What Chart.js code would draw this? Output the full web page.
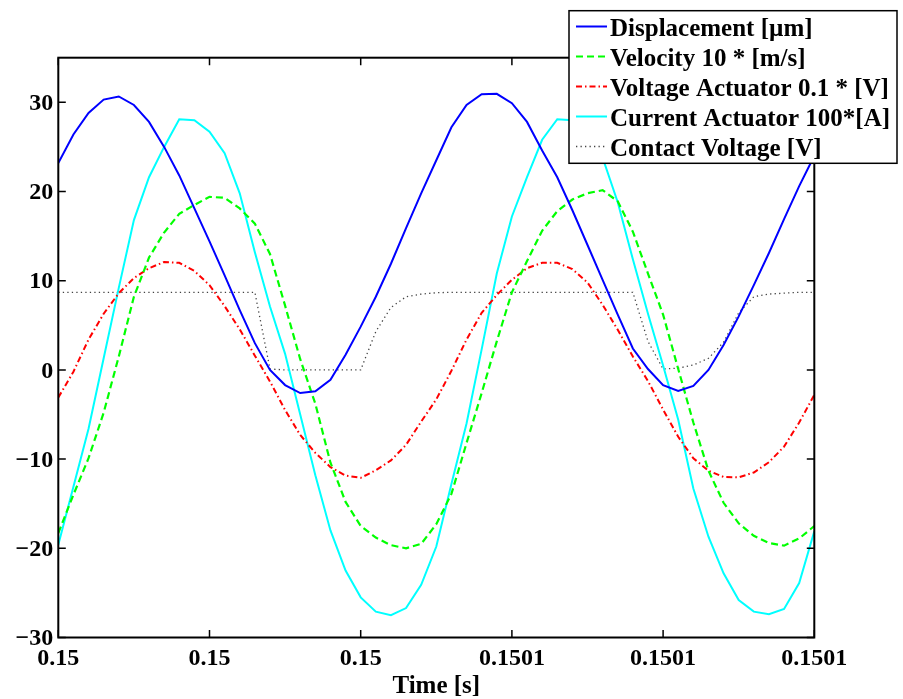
<!DOCTYPE html>
<html>
<head>
<meta charset="utf-8">
<script src="https://cdn.jsdelivr.net/npm/chart.js@4.4.1/dist/chart.umd.min.js"></script>
<style>
  html, body { margin: 0; padding: 0; background: #fff; }
  canvas { display: block; }
</style>
</head>
<body>
<canvas id="c" width="903" height="699" style="width:903px;height:699px"></canvas>
<script>
// ---- data ----
const time = [0.150000,0.150002,0.150004,0.150006,0.150008,0.150010,0.150012,0.150014,0.150016,0.150018,
              0.150020,0.150022,0.150024,0.150026,0.150028,0.150030,0.150032,0.150034,0.150036,0.150038,
              0.150040,0.150042,0.150044,0.150046,0.150048,0.150050,0.150052,0.150054,0.150056,0.150058,
              0.150060,0.150062,0.150064,0.150066,0.150068,0.150070,0.150072,0.150074,0.150076,0.150078,
              0.150080,0.150082,0.150084,0.150086,0.150088,0.150090,0.150092,0.150094,0.150096,0.150098,
              0.150100];

const displacement = [23.2,26.4,28.8,30.3,30.65,29.7,27.8,25.0,21.8,18.1,
                      14.4,10.6,6.7,3.0,0.0,-1.7,-2.6,-2.4,-1.1,1.7,
                      4.85,8.2,11.9,15.9,19.8,23.5,27.2,29.7,30.9,30.95,
                      29.9,27.8,24.6,21.6,17.9,14.0,10.1,6.2,2.4,0.1,
                      -1.7,-2.35,-1.8,0.0,2.8,6.0,9.5,13.1,16.9,20.6,
                      24.0];

const velocity = [-18.3,-14.0,-9.9,-4.8,1.5,8.2,12.6,15.4,17.5,18.5,
                  19.4,19.3,18.1,16.4,13.0,7.2,1.2,-3.8,-10.4,-14.8,
                  -17.5,-18.8,-19.65,-20.0,-19.5,-17.3,-13.9,-8.2,-2.6,3.2,
                  8.7,12.2,15.6,17.8,19.1,19.8,20.15,18.9,15.5,10.8,
                  6.2,0.1,-5.9,-11.3,-14.9,-17.2,-18.6,-19.4,-19.7,-18.9,
                  -17.5];

const voltageActuator = [-3.1,-0.2,3.4,6.3,8.6,10.3,11.4,12.1,12.0,11.1,
                         9.5,7.15,4.55,1.6,-1.3,-4.5,-7.3,-9.3,-10.9,-11.85,
                         -12.1,-11.25,-10.15,-8.4,-5.8,-3.3,-0.1,3.4,6.4,8.4,
                         10.1,11.4,12.0,12.0,11.3,9.8,7.3,4.5,1.5,-1.25,
                         -4.45,-7.5,-9.9,-11.3,-12.0,-12.05,-11.5,-10.35,-8.6,-5.9,
                         -2.8];

const currentActuator = [-19.6,-13.1,-6.6,1.3,9.2,16.8,21.6,25.0,28.1,28.0,
                         26.7,24.3,19.8,13.2,7.1,1.8,-5.0,-11.8,-18.0,-22.5,
                         -25.5,-27.1,-27.5,-26.7,-24.1,-19.8,-12.8,-6.0,2.3,10.8,
                         17.2,21.6,25.8,28.1,28.0,26.6,23.8,18.8,12.4,6.3,
                         0.5,-5.6,-13.3,-18.7,-22.8,-25.8,-27.1,-27.4,-26.8,-23.9,
                         -18.1];

const contactVoltage = [8.7,8.7,8.7,8.7,8.7,8.7,8.7,8.7,8.7,8.7,
                        8.7,8.7,8.7,8.7,0.1,0.0,0.0,0.0,0.0,0.0,
                        0.0,4.3,7.0,8.2,8.5,8.65,8.7,8.7,8.7,8.7,
                        8.7,8.7,8.7,8.7,8.7,8.7,8.7,8.7,8.7,3.2,
                        0.1,0.2,0.55,1.3,3.1,6.4,8.2,8.5,8.6,8.7,
                        8.7];

const seriesLabels = ['Displacement [\u00B5m]','Velocity 10 * [m/s]','Voltage Actuator 0.1 * [V]','Current Actuator 100*[A]','Contact Voltage [V]'];

const xTickValues = [0.15, 0.15002, 0.15004, 0.15006, 0.15008, 0.1501];
const xTickLabels = ['0.15','0.15','0.15','0.1501','0.1501','0.1501'];
const yTickValues = [-30,-20,-10,0,10,20,30];
const yTickLabels = ['\u221230','\u221220','\u221210','0','10','20','30'];
const xAxisTitle = 'Time [s]';

// ---- chart ----
const FONT = "'Liberation Serif', 'Times New Roman', serif";
const pts = arr => arr.map((v, i) => ({ x: time[i], y: v }));

const frameAndLegend = {
  id: 'frameAndLegend',
  afterDatasetsDraw(chart) {
    const { ctx, chartArea: a, scales: { x, y } } = chart;
    ctx.save();
    ctx.strokeStyle = '#000';
    ctx.lineWidth = 1.5;
    ctx.beginPath();
    xTickValues.forEach(v => {
      const p = x.getPixelForValue(v);
      ctx.moveTo(p, a.bottom); ctx.lineTo(p, a.bottom - 7.5);
      ctx.moveTo(p, a.top); ctx.lineTo(p, a.top + 7.5);
    });
    yTickValues.forEach(v => {
      const p = y.getPixelForValue(v);
      ctx.moveTo(a.left, p); ctx.lineTo(a.left + 7.5, p);
      ctx.moveTo(a.right, p); ctx.lineTo(a.right - 7.5, p);
    });
    ctx.stroke();
    ctx.lineWidth = 2;
    ctx.strokeRect(a.left, a.top, a.right - a.left, a.bottom - a.top);
    ctx.restore();
  },
  afterDraw(chart) {
    const ctx = chart.ctx;
    ctx.save();
    const bx = 569, by = 10.7, bw = 328, bh = 152.6;
    ctx.fillStyle = '#fff';
    ctx.fillRect(bx, by, bw, bh);
    ctx.strokeStyle = '#000';
    ctx.lineWidth = 1.5;
    ctx.strokeRect(bx, by, bw, bh);
    chart.data.datasets.forEach((ds, k) => {
      const ry = 26.5 + 30 * k;
      ctx.beginPath();
      ctx.strokeStyle = ds.borderColor;
      ctx.lineWidth = ds.borderWidth;
      ctx.setLineDash(ds.borderDash || []);
      ctx.moveTo(576, ry);
      ctx.lineTo(607, ry);
      ctx.stroke();
      ctx.setLineDash([]);
      ctx.fillStyle = '#000';
      ctx.font = "bold 25px " + FONT;
      ctx.textAlign = 'left';
      ctx.textBaseline = 'alphabetic';
      ctx.fillText(ds.label, 610, ry + 9.8);
    });
    ctx.restore();
  }
};

new Chart(document.getElementById('c'), {
  type: 'line',
  data: {
    datasets: [
      { label: seriesLabels[0], data: pts(displacement), borderColor: '#0000ff', borderWidth: 2, borderDash: [] },
      { label: seriesLabels[1], data: pts(velocity), borderColor: '#00ff00', borderWidth: 2.2, borderDash: [7, 4] },
      { label: seriesLabels[2], data: pts(voltageActuator), borderColor: '#ff0000', borderWidth: 2, borderDash: [6, 3, 1.5, 3] },
      { label: seriesLabels[3], data: pts(currentActuator), borderColor: '#00ffff', borderWidth: 2, borderDash: [] },
      { label: seriesLabels[4], data: pts(contactVoltage), borderColor: '#444444', borderWidth: 1.3, borderDash: [1.3, 3.2] }
    ]
  },
  options: {
    responsive: false,
    animation: false,
    devicePixelRatio: 1,
    layout: { padding: { top: 57.7, right: 88.7, left: 0, bottom: 0 } },
    elements: { point: { radius: 0 }, line: { tension: 0, fill: false } },
    plugins: { legend: { display: false }, tooltip: { enabled: false } },
    scales: {
      x: {
        type: 'linear',
        min: 0.15, max: 0.1501,
        afterFit(s) { s.height = 61.5; },
        afterBuildTicks(s) { s.ticks = xTickValues.map(v => ({ value: v })); },
        grid: { display: false, drawTicks: false },
        border: { display: false },
        ticks: {
          autoSkip: false, maxRotation: 0, minRotation: 0,
          padding: 7, color: '#000',
          font: { family: FONT, size: 24, weight: 'bold' },
          callback: (v, i) => xTickLabels[i]
        },
        title: {
          display: true, text: xAxisTitle, color: '#000',
          font: { family: FONT, size: 25, weight: 'bold', lineHeight: 1 },
          padding: { top: 0, bottom: 0 }
        }
      },
      y: {
        type: 'linear',
        min: -30, max: 35,
        afterFit(s) { s.width = 58.3; },
        afterBuildTicks(s) { s.ticks = yTickValues.map(v => ({ value: v })); },
        grid: { display: false, drawTicks: false },
        border: { display: false },
        ticks: {
          autoSkip: false, padding: 5, color: '#000', labelOffset: 1.5,
          font: { family: FONT, size: 24, weight: 'bold' },
          callback: (v, i) => yTickLabels[i]
        }
      }
    }
  },
  plugins: [frameAndLegend]
});
</script>
</body>
</html>
